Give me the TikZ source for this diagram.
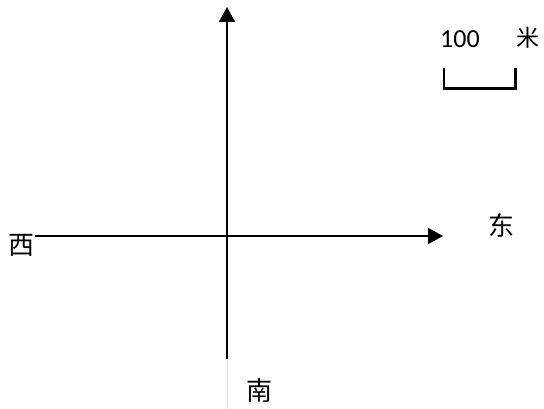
\documentclass[tikz,border=0pt]{standalone}
\usepackage{fontspec}
\newfontfamily\cjk{Noto Sans CJK SC}
\newfontfamily\digits{Carlito}
\usetikzlibrary{arrows.meta}
\begin{document}
\begin{tikzpicture}[x=1pt,y=-1pt,
  axis/.style={line width=1.7pt,-{Triangle[length=15pt,width=16pt]}},
  cn/.style={font=\cjk\fontsize{26}{26}\selectfont,inner sep=0pt},
  scalebar/.style={line width=2.6pt}]
\useasboundingbox (0,0) rectangle (544,409);
\coordinate (w) at (35,236);
\coordinate (e) at (443,236);
\coordinate (s) at (227,359);
\coordinate (n) at (227,7);
\coordinate (sf) at (227,409);
\draw[gray!25,line width=0.5pt] (s) -- (sf);
\draw[axis] (w) -- (e);
\draw[axis] (s) -- (n);
\node[cn] (west) at (21.5,245) {西};
\node[cn] (east) at (501,225) {东};
\node[cn] (south) at (259,391) {南};
\node[cn,font=\cjk\fontsize{23}{23}\selectfont] (mi) at (527.5,37.5) {米};
\node[font=\digits\fontsize{26}{26}\selectfont,inner sep=0pt,anchor=base] (num) at (460,48) {100};
\coordinate (b1) at (444,68);
\coordinate (b2) at (444,88.5);
\coordinate (b3) at (515.5,88.5);
\coordinate (b4) at (515.5,68);
\draw[scalebar] (b1) -- (b2) -- (b3) -- (b4);
\end{tikzpicture}
\end{document}
